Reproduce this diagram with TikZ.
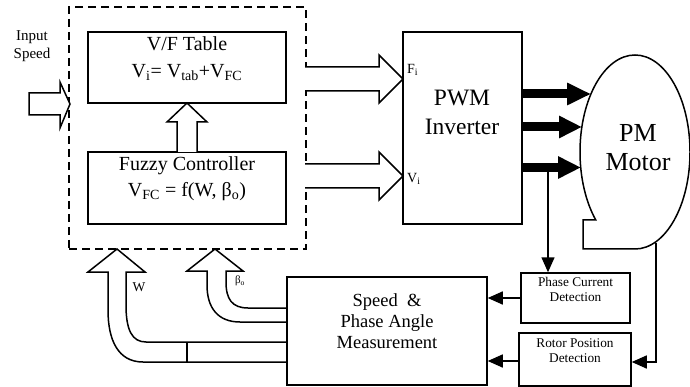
\documentclass[tikz,border=0pt]{standalone}
\usepackage{fontspec}
\setmainfont{Liberation Serif}
\usetikzlibrary{arrows.meta,calc}
\begin{document}
\begin{tikzpicture}[x=1pt,y=-1pt,line join=miter,
  box/.style={draw,line width=1.5pt,inner sep=0pt},
  ctrlbox/.style={draw,line width=2pt,dash pattern=on 8pt off 5pt,inner sep=0pt},
  lbl/.style={inner sep=0pt,align=center},
  hollow/.style={draw,line width=1.5pt,fill=white},
  thickarr/.style={line width=9pt,-{Triangle[length=24pt,width=21pt]}},
  thinarr/.style={line width=1.5pt,-{Triangle[length=15pt,width=13pt]}},
  wire/.style={line width=1.5pt}]
\useasboundingbox (0,0) rectangle (690,387);

% boxes
\node[ctrlbox,minimum width=237pt,minimum height=242pt] (ctrl) at (187.5,128) {};
\node[box,minimum width=198pt,minimum height=71pt] (vf) at (187,67.5) {};
\node[box,minimum width=198pt,minimum height=72pt] (fz) at (187,188) {};
\node[box,minimum width=119pt,minimum height=192pt] (pwm) at (462.5,128) {};
\node[box,minimum width=200pt,minimum height=108pt] (speed) at (387,331) {};
\node[box,minimum width=109pt,minimum height=50pt] (pcd) at (575.5,298) {};
\node[box,minimum width=112pt,minimum height=53pt] (rpd) at (575,359.5) {};

% motor outline
\draw[wire] (635,249) arc[start angle=90,end angle=-224.4,x radius=55,y radius=97]
  -- (583,219.9) -- (583,249) -- cycle;
\coordinate (m1) at (591,94);
\coordinate (m2) at (582,127);
\coordinate (m3) at (581,167.5);
\coordinate (rot) at (656,242.6);
\coordinate (tap) at (548,167.5);

% texts
\node[lbl,font=\fontsize{15}{18}\selectfont] (inlbl) at (32,46) {Input\\Speed};
\node[lbl,font=\fontsize{20}{27}\selectfont] (vft) at (187,58.5) {V/F Table\\V\textsubscript{i}= V\textsubscript{tab}+V\textsubscript{FC}};
\node[lbl,font=\fontsize{20}{26}\selectfont] (fzt) at (187,179) {Fuzzy Controller\\V\textsubscript{FC} = f(W, β\textsubscript{o})};
\node[lbl,font=\fontsize{23.5}{29}\selectfont] (pwmt) at (462,112.5) {PWM\\Inverter};
\node[lbl,font=\fontsize{26}{29}\selectfont] (motor) at (638,147.5) {PM\\Motor};
\node[lbl,font=\fontsize{18.5}{21}\selectfont] (speedt) at (387,321) {Speed \ \&\\Phase Angle\\Measurement};
\node[lbl,font=\fontsize{13.3}{15}\selectfont] (pcdt) at (575.5,289.5) {Phase Current\\Detection};
\node[lbl,font=\fontsize{13.3}{15}\selectfont] (rpdt) at (575,350.5) {Rotor Position\\Detection};
\node[lbl,font=\fontsize{14}{16}\selectfont,anchor=west] (fil) at (407,70) {F\textsubscript{i}};
\node[lbl,font=\fontsize{14}{16}\selectfont,anchor=west] (vil) at (407,179) {V\textsubscript{i}};
\node[lbl,font=\fontsize{13.5}{16}\selectfont] (wl) at (139,287) {W};
\node[lbl,font=\fontsize{11}{13}\selectfont] (bl) at (240,281) {β\textsubscript{o}};

% hollow arrows
\draw[hollow] (29,93) -- (60,93) -- (60,82) -- (70,104) -- (60,128) -- (60,115) -- (29,115) -- cycle;
\draw[hollow] (177,152) -- (177,122) -- (167,122) -- (187,103) -- (207,122) -- (197,122) -- (197,152);
\filldraw[hollow] (305,67) -- (379,67) -- (379,55) -- (403,79) -- (379,103) -- (379,91) -- (305,91);
\filldraw[hollow] (305,164) -- (379,164) -- (379,152) -- (403,176) -- (379,200) -- (379,188) -- (305,188);
\draw[hollow,fill=none] (287,362) -- (143,362) .. controls (118,362) and (108,340) .. (108,310) -- (108,272)
  -- (88,272) -- (117,249) -- (145,272) -- (126,272) -- (126,305)
  .. controls (126,330) and (132,342) .. (146,342) -- (287,342);
\draw[wire] (187,342) -- (187,362);
\draw[hollow,fill=none] (287,322) -- (240,322) .. controls (218,322) and (207,308) .. (207,285) -- (207,271)
  -- (187,271) -- (215,249) -- (243,271) -- (226,271) -- (226,282)
  .. controls (226,299) and (232,308) .. (248,308) -- (287,308);

% thick power arrows
\draw[thickarr] (pwm.east |- m1) -- (m1);
\draw[thickarr,-{Triangle[length=23pt,width=21pt]}] (pwm.east |- m2) -- (m2);
\draw[thickarr,-{Triangle[length=23pt,width=21pt]}] (pwm.east |- m3) -- (m3);

% signal connectors
\draw[thinarr] (tap) -- (tap |- pcd.north);
\draw[thinarr] (pcd.west) -- (speed.east |- pcd.west);
\draw[thinarr] ($(rpd.west)+(0,1.5)$) -- ($(speed.east |- rpd.west)+(0,1.5)$);
\draw[thinarr] (rot) |- ($(rpd.east)+(0,2.5)$);
\end{tikzpicture}
\end{document}
